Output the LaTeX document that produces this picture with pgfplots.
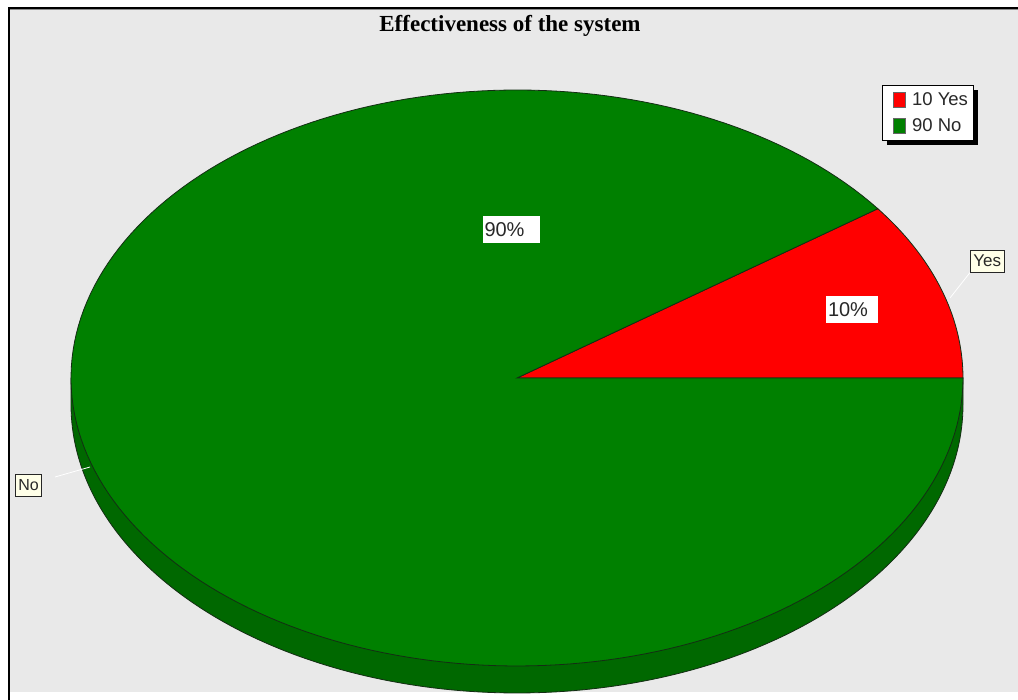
\documentclass[border=0pt]{standalone}
\usepackage{fontspec}
\setmainfont{Liberation Serif}
\newfontfamily\labelfont{Liberation Sans}
\usepackage{pgfplots}
\pgfplotsset{compat=1.18}

\definecolor{bgGray}{RGB}{233,233,233}
\definecolor{pieRed}{RGB}{255,0,0}
\definecolor{pieGreen}{RGB}{0,128,0}
\definecolor{sideGreen}{RGB}{0,104,0}
\definecolor{edgeDark}{RGB}{20,45,20}
\definecolor{tagFill}{RGB}{255,255,232}
\definecolor{txtGray}{RGB}{40,40,40}

% survey answers
\def\valYes{10}
\def\valNo{90}

\begin{document}
\begin{tikzpicture}
\pgfmathsetmacro\total{\valYes+\valNo}
\pgfmathsetmacro\angYes{360*\valYes/\total}
% pie geometry (axis units = pt)
\def\cx{517}\def\cy{322}\def\ra{446}\def\rb{288}\def\dep{27}
\pgfmathsetmacro\xl{\cx-\ra}
\pgfmathsetmacro\xr{\cx+\ra}

\useasboundingbox (0,0) rectangle (1018pt,700pt);
\clip (0,0) rectangle (1018pt,700pt);
\fill[white] (0,0) rectangle (1018pt,700pt);
\fill[bgGray] (10pt,8pt) rectangle (1018pt,691pt);
\draw[black, line width=2.5pt] (9pt,0pt) -- (9pt,692pt) -- (1018pt,692pt);
\draw[black!45, line width=1pt] (10pt,690pt) -- (1018pt,690pt);
% legend shadow
\fill[black] (887pt,555pt) rectangle (978pt,610pt);

\begin{axis}[
  scale only axis, width=1018pt, height=700pt,
  xmin=0, xmax=1018, ymin=0, ymax=700,
  hide axis, clip=false,
  legend style={at={(axis cs:882,615)}, anchor=north west,
    draw=black, line width=0.8pt, fill=white,
    font=\labelfont\fontsize{18.5}{20}\selectfont, text=txtGray,
    inner xsep=3pt, inner ysep=5pt, row sep=8pt, column sep=5pt,
    cells={anchor=west}},
  legend image code/.code={
    \path (0pt,0pt);
    \draw[#1, draw=black!60, line width=0.5pt] (7pt,-7.5pt) rectangle (19pt,7.5pt);},
]
% side wall of the disc
\addplot[forget plot, fill=sideGreen, draw=edgeDark, line width=0.8pt,
  domain=180:360, samples=160, variable=\t]
  ({\cx+\ra*cos(\t)}, {\cy-\dep+\rb*sin(\t)})
  -- (axis cs:\xr,\cy) -- (axis cs:\xl,\cy) -- cycle;
% slices
\addplot[fill=pieRed, draw=edgeDark, line width=0.8pt,
  domain=0:\angYes, samples=40, variable=\t]
  ({\cx+\ra*cos(\t)}, {\cy+\rb*sin(\t)}) -- (axis cs:\cx,\cy) -- cycle;
\addplot[fill=pieGreen, draw=edgeDark, line width=0.8pt,
  domain=\angYes:360, samples=200, variable=\t]
  ({\cx+\ra*cos(\t)}, {\cy+\rb*sin(\t)}) -- (axis cs:\cx,\cy) -- cycle;
\legend{\valYes\ Yes, \valNo\ No}

% title
\node[font=\bfseries\fontsize{23}{27}\selectfont] at (axis cs:510,674) {Effectiveness of the system};

% percentage labels
\node[fill=white, inner sep=2pt, text width=53pt, minimum height=27pt,
  font=\labelfont\fontsize{20}{22}\selectfont, text=txtGray]
  at (axis cs:511,470) {\valNo\%};
\node[fill=white, inner sep=2pt, text width=48pt, minimum height=27pt,
  font=\labelfont\fontsize{20}{22}\selectfont, text=txtGray]
  at (axis cs:852,390) {\valYes\%};

% category tags with leader lines
\draw[white, line width=0.8pt] (axis cs:950,402) -- (axis cs:972,430);
\node[fill=tagFill, draw=black!85, line width=0.8pt, inner sep=3pt,
  minimum height=22pt, anchor=west,
  font=\labelfont\fontsize{17}{19}\selectfont, text=txtGray]
  at (axis cs:970,439) {Yes};
\draw[white, line width=0.8pt] (axis cs:55,223) -- (axis cs:90,233);
\node[fill=tagFill, draw=black!85, line width=0.8pt, inner sep=3pt,
  minimum height=22pt, anchor=west,
  font=\labelfont\fontsize{16}{18}\selectfont, text=txtGray]
  at (axis cs:15,215) {No};
\end{axis}
\end{tikzpicture}
\end{document}
